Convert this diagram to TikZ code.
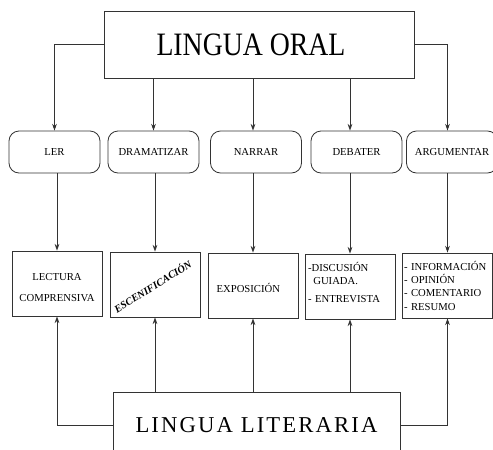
\documentclass[tikz,border=0pt]{standalone}
\usepackage{fontspec}
\setmainfont{Liberation Serif}
\newfontfamily\oralfont{Liberation Serif}[FakeStretch=0.85]
\newfontfamily\literfont{Liberation Serif}[LetterSpace=9.4]
\usetikzlibrary{arrows.meta}

\tikzset{
  conn/.style={draw=black!80, line width=0.6pt},
  arr/.style={conn, -{Stealth[length=5pt,width=3.5pt]}},
  bigbox/.style={draw=black!80, line width=0.6pt, inner sep=0pt},
  skill/.style={draw=black!80, line width=0.6pt, rounded corners=7.5pt,
    minimum width=68.25pt, minimum height=31.5pt, inner sep=0pt,
    font=\fontsize{8}{10}\selectfont},
  task/.style={draw=black!80, line width=0.6pt, minimum width=67.5pt,
    minimum height=48.75pt, inner sep=1pt, font=\fontsize{8}{10}\selectfont},
}

\begin{document}
\begin{tikzpicture}[x=0.75pt,y=0.75pt,yscale=-1,xscale=1]
\useasboundingbox (0,0) rectangle (493,450);

%Shape: Rectangle [top]
\node (oral) at (259,44.5) [bigbox, minimum width=232.5pt, minimum height=50.25pt]
  {\oralfont\fontsize{24.5}{26}\selectfont LINGUA ORAL\hspace*{12pt}};

%Shape: Rounded Rectangle [row 1]
\node (ler) at (54.5,152) [skill] {LER};
\node (drama) at (153.5,152) [skill] {DRAMATIZAR};
\node (narrar) at (256,152) [skill] {NARRAR};
\node (debater) at (356.5,152) [skill] {DEBATER};
\node (argum) at (452,152) [skill] {ARGUMENTAR};

%Shape: Rectangle [row 2]
\node (lect) at (57,283.5) [task, align=center, font=\fontsize{8}{15.75}\selectfont]
  {\rule{0pt}{12pt}LECTURA\\COMPRENSIVA};
\node (expo) at (253,285.5) [task] {\rule{0pt}{10.5pt}EXPOSICIÓN\hspace*{7pt}};
\node (escen) at (155,284.5) [task] {};
\node (disc) at (350,286.5) [task, align=left, inner xsep=2.25pt, text width=63pt]
  {-DISCUSIÓN\\\ \,GUIADA.\\[3.5pt]- ENTREVISTA\rule[-6pt]{0pt}{0pt}};
\node (info) at (447.5,285.5) [task, align=left, inner sep=0.75pt, text width=65.25pt]
  {- INFORMACIÓN\\- OPINIÓN\\- COMENTARIO\\- RESUMO};

% Text Node
\node (escentxt) at (152.5,286) [rotate=32, font=\fontsize{7.8}{10}\selectfont\bfseries\itshape]
  {ESCENIFICACIÓN};

%Shape: Rectangle [bottom]
\node (liter) at (256.5,425) [bigbox, minimum width=215.25pt, minimum height=49.5pt]
  {\literfont\fontsize{17}{20}\selectfont LINGUA LITERARIA};

%Straight Lines [oral -> row 1]
\draw[arr] (oral.west) -| (ler.north);
\draw[arr] (oral.south -| drama.north) -- (drama.north);
\draw[arr] (oral.south -| expo.north) -- (narrar.north -| expo.north);
\draw[arr] (oral.south -| disc.north) -- (debater.north -| disc.north);
\draw[arr] (oral.east) -| (argum.north -| info.north);

%Straight Lines [row 1 -> row 2]
\draw[arr] (ler.south -| lect.north) -- (lect.north);
\draw[arr] (drama.south -| escen.north) -- (escen.north);
\draw[arr] (narrar.south -| expo.north) -- (expo.north);
\draw[arr] (debater.south -| disc.north) -- (disc.north);
\draw[arr] (argum.south -| info.north) -- (info.north);

%Straight Lines [liter -> row 2]
\draw[arr] (liter.west) -| (lect.south);
\draw[arr] (liter.north -| escen.south) -- (escen.south);
\draw[arr] (liter.north -| expo.south) -- (expo.south);
\draw[arr] (liter.north -| disc.south) -- (disc.south);
\draw[arr] (liter.east) -| (info.south);

\end{tikzpicture}
\end{document}
